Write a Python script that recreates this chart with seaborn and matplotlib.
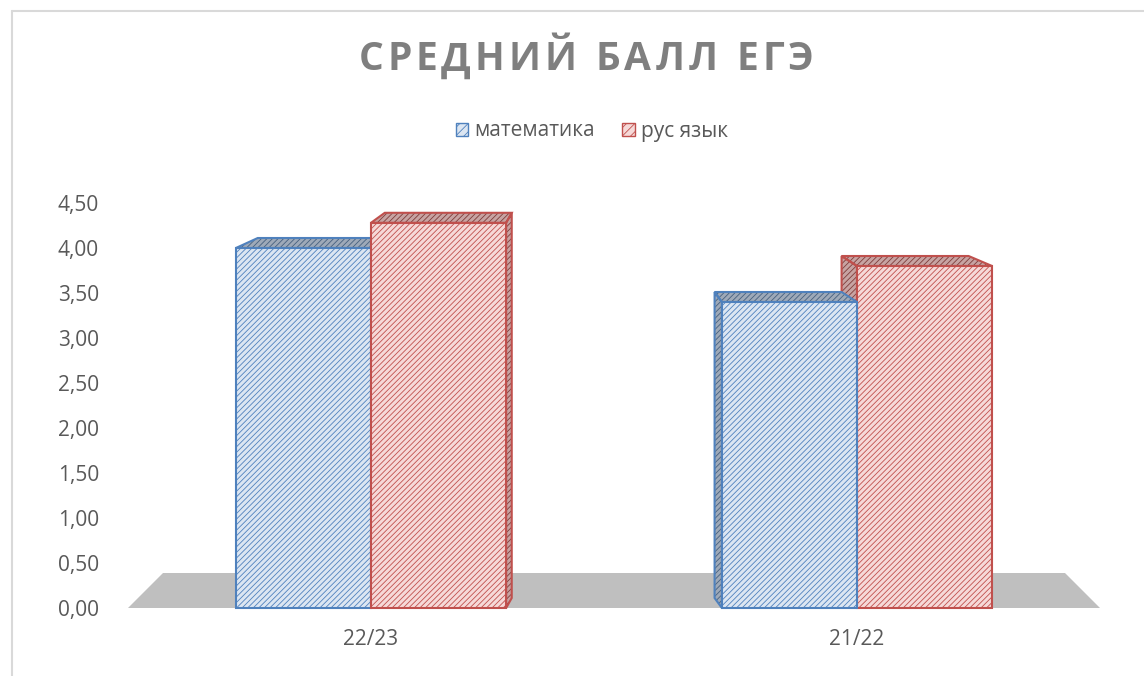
import matplotlib
matplotlib.use("Agg")
import matplotlib.pyplot as plt
import seaborn as sns
import pandas as pd
from matplotlib.patches import Polygon, Patch
from matplotlib.lines import Line2D

categories = ["22/23", "21/22"]
series = ["математика", "рус язык"]
math_scores = [4.00, 3.40]
rus_scores = [4.28, 3.80]
y_ticks = [0, 0.5, 1.0, 1.5, 2.0, 2.5, 3.0, 3.5, 4.0, 4.5]
y_tick_labels = ["0,00", "0,50", "1,00", "1,50", "2,00", "2,50", "3,00", "3,50", "4,00", "4,50"]
title = "СРЕДНИЙ БАЛЛ ЕГЭ"

front_colors = ["#dce6f2", "#f6d9d8"]
edge_colors = ["#4f81bd", "#c0504d"]
top_colors = ["#9ea9b8", "#c7a3a2"]
top_hatch = ["#46607f", "#7f3c3a"]

sns.set_theme(style="white")
plt.rcParams["font.family"] = ["Open Sans", "DejaVu Sans"]
plt.rcParams["hatch.linewidth"] = 0.6

df = pd.DataFrame({
    "year": categories * 2,
    "score": math_scores + rus_scores,
    "subject": [series[0]] * len(categories) + [series[1]] * len(categories),
})

W, H = 1144, 676
fig = plt.figure(figsize=(W / 100, H / 100), dpi=100)
ax = fig.add_axes([128 / W, 68 / H, 972 / W, 405 / H])

sns.barplot(data=df, x="year", y="score", hue="subject", order=categories,
            hue_order=series, palette=front_colors, width=0.556, saturation=1,
            ax=ax, legend=False)
ax.set_xlim(-0.5, 1.5)
ax.set_ylim(0, 4.5)
ax.set_yticks(y_ticks)
ax.set_yticklabels(y_tick_labels)
ax.set_xlabel("")
ax.set_ylabel("")
for s in ax.spines.values():
    s.set_visible(False)
ax.tick_params(axis="y", length=0, pad=21, labelsize=15, labelcolor="#595959")
ax.tick_params(axis="x", length=0, pad=15, labelsize=15, labelcolor="#595959")
ax.grid(False)

# floor
floor = Polygon([(0, 0), (1, 0), (1 - 0.036, 0.0864), (0.036, 0.0864)],
                closed=True, transform=ax.transAxes, facecolor="#bfbfbf",
                edgecolor="none", zorder=0.5)
ax.add_patch(floor)

# pseudo 3D
fig.canvas.draw()
renderer = fig.canvas.get_renderer()
px_per_x = ax.transData.transform((1, 0))[0] - ax.transData.transform((0, 0))[0]
px_per_y = ax.transData.transform((0, 1))[1] - ax.transData.transform((0, 0))[1]
xv_px = 600 - 128  # vanishing x, relative to axes left
k = 0.06
dy = 10 / px_per_y

bars = [b for b in ax.patches if b is not floor]
info = []
for i, b in enumerate(bars):
    si = i // len(categories)
    info.append((b, si))

def dxof(xd):
    xpx = (xd + 0.5) * px_per_x
    return k * (xv_px - xpx) / px_per_x

HATCH = "//////"
info.sort(key=lambda t: -abs((t[0].get_x() + t[0].get_width() / 2 + 0.5) * px_per_x - xv_px))
z = 2
for b, si in info:
    x0 = b.get_x()
    x1 = x0 + b.get_width()
    h = b.get_height()
    d0, d1 = dxof(x0), dxof(x1)
    polys = []
    if d1 > 0:
        polys.append([(x1, 0), (x1, h), (x1 + d1, h + dy), (x1 + d1, dy)])
    if d0 < 0:
        polys.append([(x0, 0), (x0, h), (x0 + d0, h + dy), (x0 + d0, dy)])
    polys.append([(x0, h), (x1, h), (x1 + d1, h + dy), (x0 + d0, h + dy)])
    for p in polys:
        ax.add_patch(Polygon(p, closed=True, facecolor=top_colors[si],
                             edgecolor=top_hatch[si], hatch=HATCH, lw=0,
                             zorder=z, clip_on=False))
        ax.add_patch(Polygon(p, closed=True, facecolor="none",
                             edgecolor=edge_colors[si], lw=1.5,
                             zorder=z + 0.1, clip_on=False))
    b.set_facecolor(front_colors[si])
    b.set_edgecolor(edge_colors[si])
    b.set_hatch(HATCH)
    b.set_linewidth(0)
    b.set_zorder(z + 0.2)
    ax.add_patch(Polygon([(x0, 0), (x1, 0), (x1, h), (x0, h)], closed=True,
                         facecolor="none", edgecolor=edge_colors[si], lw=1.5,
                         zorder=z + 0.3, clip_on=False))
    z += 1

# title with letter spacing: place characters one after another
track_px = 4.0
title_fs = 28
words = title.split(" ")
space_px = 11.0
items = []
for wi, w in enumerate(words):
    for ch in w:
        items.append(ch)
    if wi < len(words) - 1:
        items.append(" ")
widths = []
for ch in items:
    if ch == " ":
        widths.append(space_px)
        continue
    t = fig.text(0, 0, ch, fontsize=title_fs, fontweight="bold")
    widths.append(t.get_window_extent(renderer).width)
    t.remove()
total = sum(widths) + track_px * (len(items) - 1)
x = 586 - total / 2
yc = H - 60
for ch, w in zip(items, widths):
    if ch != " ":
        fig.text(x / W, yc / H, ch, ha="left", va="center", fontsize=title_fs,
                 fontweight="bold", color="#7f7f7f")
    x += w + track_px

# legend
handles = [Patch(facecolor=front_colors[i], edgecolor=edge_colors[i], hatch="////", lw=1)
           for i in range(len(series))]
fig.legend(handles, series, loc="center", bbox_to_anchor=(592 / W, 1 - 131 / H),
           ncol=2, frameon=False, handlelength=0.6, handleheight=0.6,
           columnspacing=1.3, handletextpad=0.3, fontsize=15, labelcolor="#595959")

# border
fig.add_artist(Line2D([12 / W, 1], [1 - 11 / H, 1 - 11 / H], transform=fig.transFigure,
                      color="#d9d9d9", lw=1.5))
fig.add_artist(Line2D([12 / W, 12 / W], [0, 1 - 11 / H], transform=fig.transFigure,
                      color="#d9d9d9", lw=1.5))

fig.savefig("out.png", dpi=100)
